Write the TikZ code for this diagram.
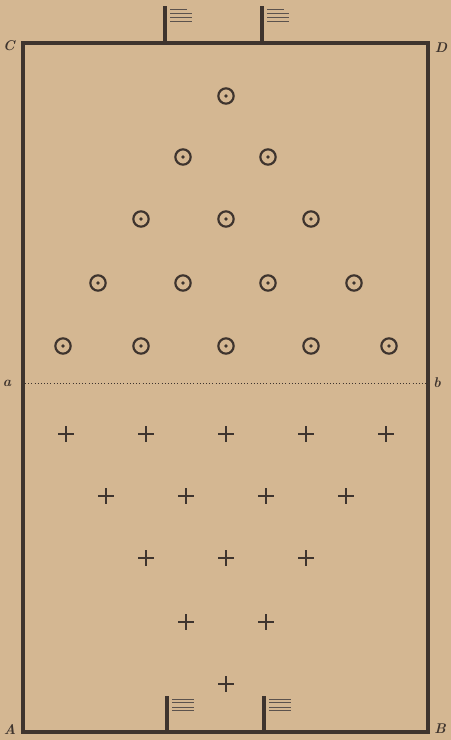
\documentclass[tikz,border=0pt]{standalone}
\usepackage{tikz}
\usetikzlibrary{positioning}
\definecolor{paper}{RGB}{212,183,146}
\definecolor{ink}{RGB}{62,52,46}
\begin{document}
\begin{tikzpicture}[x=0.3mm,y=-0.3mm,
  wall/.style={ink,line width=1.2mm},
  post/.style={ink,line width=1.1mm},
  flag/.style={ink!85,line width=0.3mm},
  target/.style={circle,draw=ink,line width=0.65mm,minimum size=4.6mm,inner sep=0pt},
  peg/.style={ink,line width=0.4mm},
  corner/.style={ink,font=\large\itshape\bfseries,inner sep=0pt}]
  % Background
  \fill[paper] (0,0) rectangle (451,740);
  \useasboundingbox (0,0) rectangle (451,740);
  % Court
  \coordinate (A) at (23,732);
  \coordinate (B) at (428,732);
  \coordinate (C) at (23,43);
  \coordinate (D) at (428,43);
  \draw[wall] (A) -- (C) -- (D) -- (B) -- cycle;
  \node[corner] (labC) at (9,46) {C};
  \node[corner] (labD) at (441,48) {D};
  \node[corner] (labA) at (10,729) {A};
  \node[corner] (labB) at (440,729) {B};
  % Middle line
  \coordinate (ma) at (25,383);
  \coordinate (mb) at (426,383);
  \draw[ink,dotted,line width=0.25mm] (ma) -- (mb);
  \node[corner] (laba) at (7,383) {a};
  \node[corner] (labb) at (437,383) {b};
  % Gates, top
  \foreach \gx in {165,262}{
    \draw[post] (\gx,6) -- (\gx,43);
    \foreach \gy/\gl in {9/17,13/22,17/22,21/22}
      \draw[flag] (\gx+5,\gy) -- ++(\gl,0);
  }
  % Gates, bottom
  \foreach \gx in {167,264}{
    \draw[post] (\gx,696) -- (\gx,732);
    \foreach \gy/\gl in {699/22,702/22,707/22,710/22}
      \draw[flag] (\gx+5,\gy) -- ++(\gl,0);
  }
  % Targets
  \foreach \tx/\ty [count=\i] in {226/96,183/157,268/157,141/219,226/219,311/219,
      98/283,183/283,268/283,354/283,63/346,141/346,226/346,311/346,389/346}{
    \node[target] (t\i) at (\tx,\ty) {};
    \fill[ink] (t\i.center) circle (0.55mm);
  }
  % Pegs
  \foreach \px/\py [count=\i] in {66/434,146/434,226/434,306/434,386/434,
      106/496,186/496,266/496,346/496,146/558,226/558,306/558,
      186/622,266/622,226/684}{
    \coordinate (p\i) at (\px,\py);
    \draw[peg] (p\i) +(-8,0) -- +(8,0) (p\i) +(0,-8) -- +(0,8);
  }
\end{tikzpicture}
\end{document}
